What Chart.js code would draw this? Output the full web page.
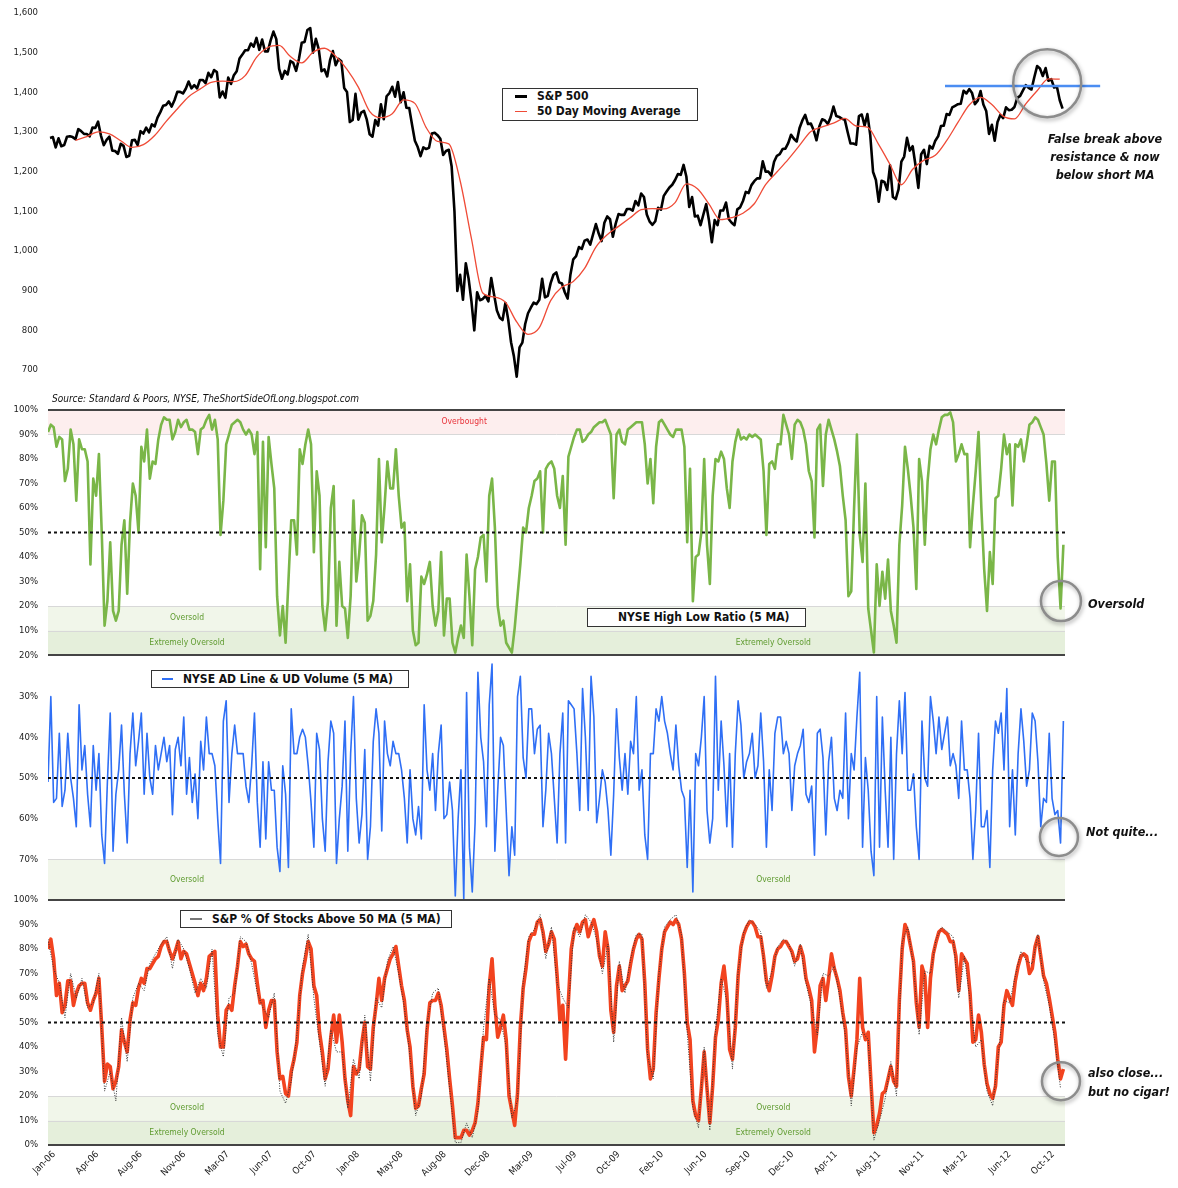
<!DOCTYPE html>
<html>
<head>
<meta charset="utf-8">
<title>S&amp;P 500 and market breadth</title>
<script src="https://cdn.jsdelivr.net/npm/chart.js@4.4.1/dist/chart.umd.min.js"></script>
<style>
  html, body { margin: 0; padding: 0; background: #fff; }
  body { position: relative; width: 1178px; height: 1188px; overflow: hidden;
         font-family: 'DejaVu Sans Condensed', 'DejaVu Sans', sans-serif; color: #111; }
  .pane { position: absolute; left: 0; width: 1178px; }
  .box { position: absolute; box-sizing: border-box; border: 1px solid #333; background: #fff; z-index: 2; }
  .lbl { position: absolute; font-size: 12px; font-weight: bold; line-height: 14px; white-space: nowrap; }
  .key { position: absolute; }
  .note { position: absolute; z-index: 2; font-size: 12.5px; font-weight: bold; font-style: italic;
          line-height: 18px; white-space: nowrap; color: #111; }
  .src { position: absolute; z-index: 2; left: 52px; top: 392px; font-size: 10px; font-style: italic;
         line-height: 14px; white-space: nowrap; }
</style>
</head>
<body>
<div class="pane" style="top:0;height:400px"><canvas id="spxChart"></canvas></div>
<div class="pane" style="top:400px;height:259px"><canvas id="hlChart"></canvas></div>
<div class="pane" style="top:646px;height:256px"><canvas id="adChart"></canvas></div>
<div class="pane" style="top:890px;height:298px"><canvas id="pctChart"></canvas></div>

<div class="box" style="left:502px;top:88px;width:196px;height:33px">
  <span class="key" style="left:12px;top:6px;width:12px;height:3px;background:#000"></span>
  <span class="lbl" style="left:34px;top:0px">S&amp;P 500</span>
  <span class="key" style="left:12px;top:22px;width:12px;height:1px;background:#ef4b37"></span>
  <span class="lbl" style="left:34px;top:15px">50 Day Moving Average</span>
</div>
<div class="box" style="left:587px;top:608px;width:219px;height:19px">
  <span class="lbl" style="left:30px;top:1px">NYSE High Low Ratio (5 MA)</span>
</div>
<div class="box" style="left:151px;top:670px;width:258px;height:18px">
  <span class="key" style="left:10px;top:7px;width:11px;height:2px;background:#2f6ff5"></span>
  <span class="lbl" style="left:31px;top:1px">NYSE AD Line &amp; UD Volume (5 MA)</span>
</div>
<div class="box" style="left:180px;top:910px;width:272px;height:18px">
  <span class="key" style="left:9px;top:7px;width:12px;height:2px;background:#777"></span>
  <span class="lbl" style="left:31px;top:1px">S&amp;P % Of Stocks Above 50 MA (5 MA)</span>
</div>

<div class="note" style="left:1030px;top:130px;width:150px;text-align:center">False break above<br>resistance &amp; now<br>below short MA</div>
<div class="note" style="left:1088px;top:595px">Oversold</div>
<div class="note" style="left:1086px;top:823px">Not quite...</div>
<div class="note" style="left:1088px;top:1063px;line-height:19px">also close...<br>but no cigar!</div>
<div class="src">Source: Standard &amp; Poors, NYSE, TheShortSideOfLong.blogspot.com</div>

<script>
// date axis: days counted from 1 Jan 2006
const tickLabels = ['Jan-06','Apr-06','Aug-06','Nov-06','Mar-07','Jun-07','Oct-07','Jan-08',
  'May-08','Aug-08','Dec-08','Mar-09','Jul-09','Oct-09','Feb-10','Jun-10','Sep-10','Dec-10',
  'Apr-11','Aug-11','Nov-11','Mar-12','Jun-12','Oct-12'];
const TICK_STEP = 107.5;
const X_MAX = 2517;

// S&P 500, weekly closes from Fri 6 Jan 2006
const SPX_START = 5, SPX_STEP = 7;
const spx = [
  1285,1287,1261,1284,1264,1267,1288,1289,1287,1282,1307,1302,1295,1295,1289,1311,1310,1326,1291,1267,
  1280,1288,1253,1252,1245,1270,1265,1237,1240,1279,1280,1267,1302,1296,1311,1299,1319,1314,1336,1350,
  1366,1368,1377,1364,1380,1401,1401,1397,1409,1427,1410,1418,
  1410,1431,1431,1423,1449,1438,1456,1451,1387,1402,1386,1437,1421,1443,1453,1485,1495,1506,1506,1523,
  1515,1537,1507,1533,1503,1503,1531,1553,1534,1459,1434,1454,1445,1479,1474,1454,1484,1525,1527,1557,
  1562,1500,1535,1509,1453,1458,1440,1481,1504,1468,1484,1478,
  1411,1401,1325,1330,1396,1331,1349,1353,1331,1294,1288,1330,1316,1370,1332,1390,1398,1414,1389,1426,
  1375,1400,1361,1360,1318,1278,1262,1239,1261,1257,1260,1296,1298,1292,1283,1242,1252,1255,1213,1099,
  899,940,877,969,930,873,800,896,876,879,887,873,
  932,890,850,832,826,869,827,770,735,683,757,769,816,843,857,870,866,877,930,883,
  887,919,940,946,921,918,896,880,941,979,987,1010,1005,1026,1029,1016,1042,1068,1044,1025,
  1071,1087,1080,1036,1069,1093,1091,1091,1106,1106,1102,1126,
  1115,1145,1136,1092,1074,1066,1075,1109,1104,1139,1150,1160,1167,1179,1194,1192,1217,1187,1111,1136,
  1087,1089,1065,1092,1118,1076,1022,1078,1065,1102,1102,1122,1080,1071,1065,1105,1110,1126,1149,1146,
  1166,1176,1183,1183,1226,1200,1200,1190,1225,1240,1244,1257,1258,
  1272,1293,1283,1276,1310,1329,1343,1320,1321,1304,1279,1314,1332,1329,1320,1337,1364,1340,1338,1333,
  1331,1300,1271,1271,1268,1340,1344,1316,1345,1292,1199,1179,1124,1177,1174,1154,1216,1136,1131,1155,
  1225,1238,1285,1253,1264,1216,1159,1244,1255,1219,1265,1258,
  1278,1289,1315,1316,1345,1343,1362,1366,1370,1371,1404,1397,1408,1398,1370,1379,1403,1369,1353,1295,
  1318,1278,1325,1343,1335,1362,1355,1356,1363,1386,1391,1405,1418,1411,1407,1438,1466,1460,1441,1461,
  1429,1433,1412,1414,1380,1359
];

// 50 day moving average, read every four weeks
const MA_START = 68, MA_STEP = 28;
const spxMa50 = [
  1279,1288,1300,1295,1278,1261,1268,1291,1326,1358,1389,1408,1425,1428,1427,1442,1488,1513,1518,1490,
  1474,1501,1511,1491,1458,1413,1352,1336,1346,1381,1372,1311,1276,1270,1177,1031,894,884,871,821,
  790,807,875,909,923,956,1010,1041,1062,1083,1104,1107,1106,1122,1169,1156,1118,1079,1084,1095,
  1119,1167,1199,1231,1266,1301,1313,1322,1334,1315,1312,1268,1218,1167,1206,1229,1241,1278,1324,1368,
  1387,1369,1340,1333,1371,1404,1434,1433
];

// breadth series, weekly from 1 Jan 2006
const OSC_STEP = 7;
const highLowRatio = [
  91,94,93,85,89,88,71,76,92,86, 63,88,84,84,79,37,72,65,82,50, 12,22,46,18,14,18,45,55,25,54,
  70,65,50,85,79,92,72,79,78,88, 94,97,96,96,88,91,96,93,95,96, 92,92,91,82,92,93,96,98,92,96,
  88,49,63,86,90,94,95,96,95,92, 90,92,90,82,91,35,87,44,89,78, 68,24,8,20,5,30,55,55,41,84,
  78,86,92,86,42,75,65,20,10,22, 60,69,12,38,20,19,7,24,63,30, 41,57,54,14,16,22,41,80,46,61,
  79,68,68,84,65,52,54,22,37,10, 4,5,32,29,33,38,20,12,18,42, 8,23,23,5,1,7,12,7,41,24,
  4,35,40,48,49,30,65,72,52,20, 12,14,5,3,1,11,24,37,52,50, 60,65,71,72,75,50,76,78,79,76,
  65,60,73,45,81,85,89,92,92,87, 88,90,91,93,94,95,95,96,93,90, 64,90,92,87,86,92,93,94,95,95,
  95,86,70,80,62,85,95,96,94,92, 90,89,92,92,92,85,46,76,22,40, 41,50,80,45,29,65,80,79,83,80,
  68,60,79,87,92,88,89,88,90,89, 90,89,88,75,49,78,79,76,86,86, 98,94,90,80,94,96,95,92,86,75,
  71,48,92,94,69,90,96,92,88,83, 77,65,55,24,26,60,90,49,38,70, 19,10,1,37,20,34,23,39,18,12,
  5,45,61,85,76,65,52,27,80,71, 45,71,84,90,86,92,97,98,98,99, 95,79,82,86,82,82,44,61,75,91,
  60,35,18,42,29,64,65,76,90,82, 86,61,86,85,88,79,86,94,95,97, 96,93,90,78,63,79,79,40,19,45
];
const adLine = [
  51,30,56,55,39,57,53,39,50,55, 62,32,48,42,54,62,42,53,44,64, 71,51,34,68,54,48,37,54,66,44,
  34,47,41,34,54,39,50,54,42,48, 44,40,46,42,59,43,40,47,35,54, 45,56,49,60,41,48,35,44,44,47,
  60,71,36,31,56,44,37,44,44,44, 52,56,47,34,56,67,46,65,46,53, 53,67,73,47,54,72,33,44,44,40,
  38,40,47,56,67,39,43,60,68,46, 36,39,71,60,52,36,68,44,30,55, 66,59,43,70,62,41,33,39,63,36,
  44,47,41,44,44,48,55,66,48,60, 64,57,65,32,48,53,44,58,44,37, 60,59,51,58,79,60,48,80,29,67,
  78,61,24,40,46,62,32,22,68,53, 40,42,58,74,62,69,30,25,45,50, 33,33,44,38,37,62,53,39,44,55,
  66,44,34,66,31,32,33,44,58,28, 40,58,25,35,61,55,48,51,58,69, 54,33,45,53,44,54,41,44,30,53,
  48,64,70,44,44,33,36,30,36,39, 44,48,37,47,53,55,72,53,78,44, 47,40,30,58,66,60,25,53,36,47,
  62,44,67,44,31,37,50,46,44,39, 50,47,34,46,67,48,58,39,35,35, 44,41,44,58,47,44,42,38,54,56,
  52,69,39,38,45,64,46,40,55,58, 53,55,34,60,44,48,35,24,67,45, 53,68,74,30,67,35,53,67,40,70,
  44,31,44,29,53,53,49,62,70,36, 50,52,30,36,44,35,43,39,35,47, 44,47,55,36,48,48,55,70,58,39,
  62,62,58,72,48,36,39,34,48,28, 62,48,64,44,33,41,52,48,34,36, 46,62,55,56,39,55,59,58,66,36
];
const pctAbove50 = [
  80,84,76,61,66,54,57,67,67,57, 62,65,66,66,58,55,59,62,68,48, 26,33,32,23,26,32,47,42,38,51,
  58,57,64,68,66,72,72,74,76,77, 81,83,83,79,76,79,83,76,79,78, 74,70,66,61,66,63,68,77,78,79,
  53,40,40,55,57,55,65,73,83,81, 82,78,76,75,66,58,59,48,55,59, 59,38,27,28,21,20,30,35,42,61,
  70,76,83,80,65,61,46,38,27,31, 44,53,42,53,42,27,18,12,32,29, 31,42,50,32,31,48,57,68,59,68,
  72,76,78,81,73,65,59,47,40,24, 15,16,23,29,47,58,59,59,62,57, 48,39,27,16,3,3,3,6,6,4,
  6,9,17,31,44,43,65,76,57,44, 48,53,43,20,14,8,21,48,64,72, 83,86,86,91,92,87,79,82,87,84,
  69,51,57,35,59,80,87,90,87,91, 92,85,89,92,87,77,73,87,80,55, 46,65,73,63,65,67,74,80,84,86,
  84,66,39,27,31,54,68,80,87,89, 91,90,92,90,84,70,50,43,18,12, 10,23,38,23,9,24,44,51,66,73,
  62,39,35,48,69,81,86,89,91,91, 89,85,85,77,67,63,69,77,80,81, 83,83,81,79,75,76,81,77,68,64,
  59,38,48,65,68,59,68,78,72,68, 63,54,47,28,20,31,43,68,48,43, 46,25,5,8,13,21,22,27,32,26,
  24,59,80,90,87,81,75,58,48,73, 69,48,68,78,83,87,88,87,86,83, 83,77,63,78,76,74,62,42,43,53,
  46,33,25,21,19,24,40,42,57,63, 60,57,67,73,77,78,77,70,72,81, 85,77,69,66,60,53,46,35,27,31
];
// unsmoothed reading (dotted), every two weeks
const RAW_STEP = 14;
const pctAbove50Raw = [
  84,72,66,52,70,60,68,56,58,70, 22,30,18,52,34,60,66,63,74,78, 82,85,72,84,80,72,62,68,64,80,
  45,36,60,62,85,83,74,62,56,52, 62,22,17,26,45,73,86,60,42,24, 47,38,38,15,35,27,53,26,60,56,
  75,81,70,56,36,12,20,50,62,64, 45,23,1,1,9,3,14,48,68,53, 51,40,11,18,67,85,88,94,76,89,
  66,60,56,89,85,94,91,84,70,82, 42,75,62,76,86,86,36,27,70,89, 92,94,86,46,15,7,40,6,47,68,
  59,31,71,87,92,90,87,64,71,81, 84,82,73,82,66,56,45,70,69,73, 60,44,16,40,46,43,2,10,19,34,
  20,83,89,73,45,71,70,84,89,87, 85,60,77,59,40,43,22,16,37,59, 58,69,79,75,74,86,67,57,42,23
];

function series(values, start, step) {
  return values.map((v, i) => ({ x: start + i * step, y: v }));
}

const FONT = "'DejaVu Sans Condensed', 'DejaVu Sans', sans-serif";
const TICK_FONT = { family: FONT, size: 9.5 };
const GREEN_TXT = '#5f9b30';

// bands, reference lines, labels and circles for one panel
function decor(cfg) {
  return {
    id: 'decor',
    beforeDatasetsDraw(chart) {
      const { ctx, chartArea: a, scales: { x, y } } = chart;
      ctx.save();
      (cfg.bands || []).forEach(b => {
        const y1 = y.getPixelForValue(b.from), y2 = y.getPixelForValue(b.to);
        ctx.fillStyle = b.color;
        ctx.fillRect(a.left, Math.min(y1, y2), a.right - a.left, Math.abs(y2 - y1));
      });
      ctx.strokeStyle = '#d8d8d8';
      ctx.lineWidth = 1;
      (cfg.edges || []).forEach(v => {
        const py = Math.round(y.getPixelForValue(v)) + 0.5;
        ctx.beginPath(); ctx.moveTo(a.left, py); ctx.lineTo(a.right, py); ctx.stroke();
      });
      ctx.font = '8.5px ' + FONT;
      ctx.textAlign = 'center';
      ctx.textBaseline = 'middle';
      (cfg.texts || []).forEach(t => {
        ctx.fillStyle = t.color || GREEN_TXT;
        ctx.fillText(t.text, x.getPixelForValue(t.x), y.getPixelForValue(t.y));
      });
      ctx.restore();
    },
    afterDatasetsDraw(chart) {
      const { ctx, chartArea: a, scales: { x, y } } = chart;
      ctx.save();
      if (cfg.mid != null) {
        const py = y.getPixelForValue(cfg.mid);
        ctx.strokeStyle = '#111'; ctx.lineWidth = 2; ctx.setLineDash([3, 3]);
        ctx.beginPath(); ctx.moveTo(a.left, py); ctx.lineTo(a.right, py); ctx.stroke();
        ctx.setLineDash([]);
      }
      ctx.strokeStyle = '#444'; ctx.lineWidth = 2;
      (cfg.frame || []).forEach(v => {
        const py = y.getPixelForValue(v);
        ctx.beginPath(); ctx.moveTo(a.left, py); ctx.lineTo(a.right, py); ctx.stroke();
      });
      if (cfg.resist) {
        const r = cfg.resist, py = y.getPixelForValue(r.value);
        ctx.strokeStyle = '#4b8df2'; ctx.lineWidth = 2.5;
        ctx.beginPath(); ctx.moveTo(x.getPixelForValue(r.from), py);
        ctx.lineTo(x.getPixelForValue(r.to), py); ctx.stroke();
      }
      (cfg.circles || []).forEach(c => {
        ctx.save();
        ctx.shadowColor = 'rgba(0,0,0,0.35)'; ctx.shadowBlur = 4;
        ctx.shadowOffsetX = 1; ctx.shadowOffsetY = 2;
        ctx.strokeStyle = '#8c8c8c'; ctx.lineWidth = 2.5;
        ctx.beginPath();
        ctx.arc(x.getPixelForValue(c.x), y.getPixelForValue(c.y), c.r, 0, Math.PI * 2);
        ctx.stroke();
        ctx.restore();
      });
      ctx.restore();
    }
  };
}

function yAxis(min, max, values, fmt, reverse) {
  return {
    min: min, max: max, reverse: !!reverse,
    afterBuildTicks: s => { s.ticks = values.map(v => ({ value: v })); },
    // fixed axis width, and no extra room for the end labels
    afterFit: s => { s.width = 48; s.paddingTop = 0; s.paddingBottom = 0; },
    grid: { display: false, drawTicks: false },
    border: { display: false },
    ticks: { font: TICK_FONT, color: '#222', padding: 10, callback: fmt }
  };
}

function xAxis(show) {
  const axis = {
    type: 'linear', min: 0, max: X_MAX, display: show,
    afterBuildTicks: s => { s.ticks = tickLabels.map((_, i) => ({ value: i * TICK_STEP })); },
    grid: { display: false, drawTicks: false },
    border: { display: false },
    ticks: { autoSkip: false, minRotation: 45, maxRotation: 45, labelOffset: 6, padding: 4,
             font: TICK_FONT, color: '#222', callback: (v, i) => tickLabels[i] }
  };
  if (show) axis.afterFit = s => { s.height = 43; s.paddingLeft = 0; s.paddingRight = 0; };
  return axis;
}

function makeChart(id, datasets, y, showX, padding, cfg) {
  return new Chart(document.getElementById(id), {
    type: 'line',
    data: { datasets: datasets },
    options: {
      responsive: true, maintainAspectRatio: false, animation: false, events: [],
      layout: { padding: padding },
      plugins: { legend: { display: false }, tooltip: { enabled: false } },
      elements: { point: { radius: 0 }, line: { tension: 0, borderJoinStyle: 'round' } },
      scales: { x: xAxis(showX), y: y }
    },
    plugins: [decor(cfg)]
  });
}

const pct = v => v + '%';
const steps = (a, b) => { const out = []; for (let v = a; v <= b; v += 10) out.push(v); return out; };

makeChart('spxChart', [
    { data: series(spx, SPX_START, SPX_STEP), borderColor: '#000', borderWidth: 2.6, order: 1 },
    { data: series(spxMa50, MA_START, MA_STEP), borderColor: '#ef4b37', borderWidth: 1.3,
      cubicInterpolationMode: 'monotone', order: 0 }
  ],
  yAxis(637, 1620, [700, 800, 900, 1000, 1100, 1200, 1300, 1400, 1500, 1600], v => v.toLocaleString('en-US')),
  false, { left: 0, right: 113, top: 5, bottom: 5 },
  { resist: { from: 2220, to: 2604, value: 1416 }, circles: [{ x: 2473, y: 1423, r: 34 }] });

makeChart('hlChart', [
    { data: series(highLowRatio, 0, OSC_STEP), borderColor: '#7ab648', borderWidth: 2.6 }
  ],
  yAxis(0, 100, steps(10, 100), pct),
  false, { left: 0, right: 113, top: 10, bottom: 4 },
  { bands: [{ from: 90, to: 100, color: '#fdeeee' }, { from: 10, to: 20, color: '#f1f6ea' },
            { from: 0, to: 10, color: '#e5efdb' }],
    edges: [90, 20, 10], mid: 50, frame: [100, 0],
    texts: [{ x: 1030, y: 95, text: 'Overbought', color: '#e8333a' },
            { x: 344, y: 15, text: 'Oversold' },
            { x: 344, y: 5, text: 'Extremely Oversold' },
            { x: 1795, y: 5, text: 'Extremely Oversold' }],
    circles: [{ x: 2507, y: 22, r: 20 }] });

makeChart('adChart', [
    { data: series(adLine, 0, OSC_STEP), borderColor: '#2f6ff5', borderWidth: 1.6 }
  ],
  yAxis(20, 80, steps(20, 70), pct, true),
  false, { left: 0, right: 113, top: 10, bottom: 2 },
  { bands: [{ from: 70, to: 80, color: '#f1f6ea' }], edges: [70], mid: 50, frame: [80],
    texts: [{ x: 344, y: 75, text: 'Oversold' }, { x: 1795, y: 75, text: 'Oversold' }],
    circles: [{ x: 2502, y: 64.5, r: 19 }] });

makeChart('pctChart', [
    { data: series(pctAbove50, 0, OSC_STEP), borderColor: '#f2431f', borderWidth: 3.6, order: 1 },
    { data: series(pctAbove50Raw, 0, RAW_STEP), borderColor: '#333', borderWidth: 1,
      borderDash: [1, 1.5], order: 0 }
  ],
  yAxis(0, 100, steps(0, 100), pct),
  true, { left: 0, right: 113, top: 10, bottom: 0 },
  { bands: [{ from: 10, to: 20, color: '#f1f6ea' }, { from: 0, to: 10, color: '#e5efdb' }],
    edges: [20, 10], mid: 50, frame: [0],
    texts: [{ x: 344, y: 15, text: 'Oversold' }, { x: 344, y: 5, text: 'Extremely Oversold' },
            { x: 1795, y: 15, text: 'Oversold' }, { x: 1795, y: 5, text: 'Extremely Oversold' }],
    circles: [{ x: 2507, y: 26, r: 19 }] });
</script>
</body>
</html>
